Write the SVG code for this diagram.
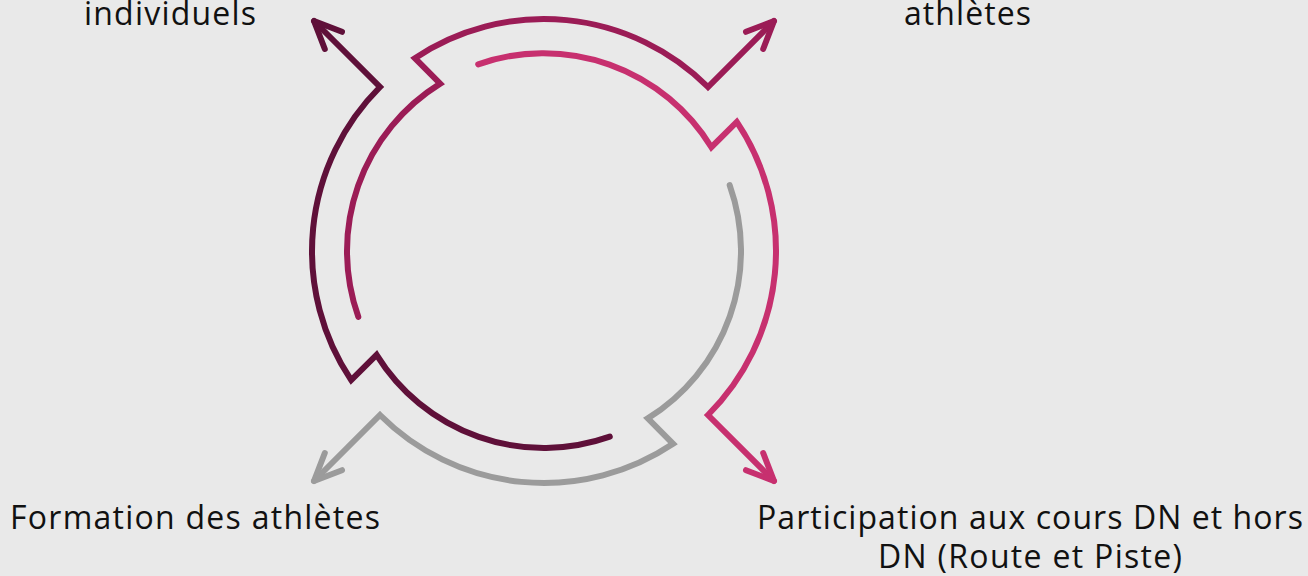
<svg xmlns="http://www.w3.org/2000/svg" width="1308" height="576" viewBox="0 0 1308 576">
<style>
.c{fill:none;stroke-width:6;stroke-linecap:round;stroke-linejoin:miter;stroke-miterlimit:6}
.h{fill:none;stroke-width:6;stroke-linecap:round;stroke-linejoin:round}
.t{font-family:"Open Sans","Noto Sans",sans-serif;font-size:32px;fill:#111;text-anchor:middle}
</style>
<rect width="1308" height="576" fill="#e9e9e9"/>
<g id="connectors">
<g id="maroon" stroke="#5f1039">
<path class="c" d="M314 21 L380 87 A232 232 0 0 0 351.2 380.1 L376.6 354.8 A197 197 0 0 0 609.8 436.7"/>
<path class="h" d="M342 31.8 L314 21 L324.8 49"/>
</g>
<g id="darkpink" stroke="#9b1c56">
<path class="c" d="M774 21 L708 87 A232 232 0 0 0 414.9 58.2 L440.2 83.6 A197 197 0 0 0 358.3 316.8"/>
<path class="h" d="M746 31.8 L774 21 L763.2 49"/>
</g>
<g id="pink" stroke="#c7306f">
<path class="c" d="M774 481 L708 415 A232 232 0 0 0 736.8 121.9 L711.4 147.2 A197 197 0 0 0 478.2 64.3"/>
<path class="h" d="M746 470.2 L774 481 L763.2 453"/>
</g>
<g id="gray" stroke="#9b9b9b">
<path class="c" d="M314 481 L380 415 A232 232 0 0 0 673.1 443.8 L647.8 418.4 A197 197 0 0 0 729.7 185.2"/>
<path class="h" d="M324.8 453 L314 481 L342 470.2"/>
</g>
</g>
<g id="label-individuels"><text class="t" x="170" y="25" textLength="172">individuels</text></g>
<g id="label-athletes"><text class="t" x="967.5" y="25" textLength="127">athlètes</text></g>
<g id="label-formation"><text class="t" x="195" y="529" textLength="370">Formation des athlètes</text></g>
<g id="label-participation">
<text class="t" x="1030" y="529" textLength="546">Participation aux cours DN et hors</text>
<text class="t" x="1030" y="568" textLength="304">DN (Route et Piste)</text>
</g>
</svg>
